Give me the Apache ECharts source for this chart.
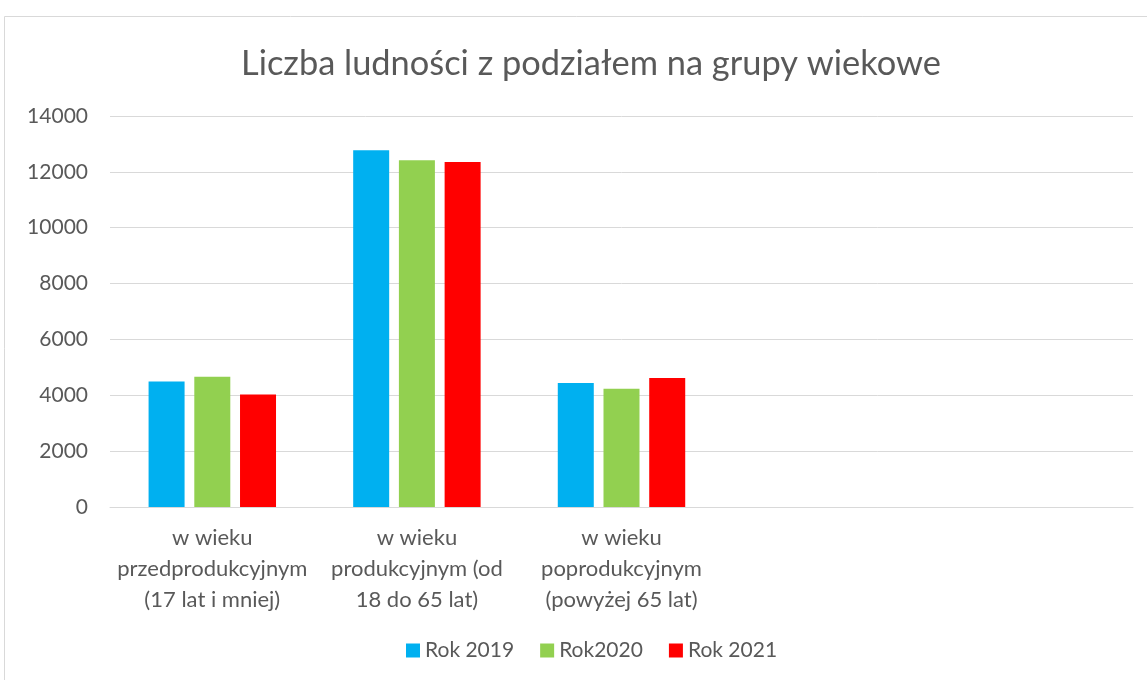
<!DOCTYPE html>
<html>
<head>
<meta charset="utf-8">
<script src="https://cdn.jsdelivr.net/npm/echarts@6/dist/echarts.min.js"></script>
<style>
  html, body { margin: 0; padding: 0; background: #fff; }
  #chart { width: 1147px; height: 680px; }
</style>
</head>
<body>
<div id="chart"></div>
<script>
// kategorie (dwie ostatnie puste, jak w oryginale)
const categories = [
  'w wieku\nprzedprodukcyjnym\n(17 lat i mniej)',
  'w wieku\nprodukcyjnym (od\n18 do 65 lat)',
  'w wieku\npoprodukcyjnym\n(powyżej 65 lat)',
  '',
  ''
]
const rok2019 = [4490, 12770, 4440]
const rok2020 = [4660, 12420, 4230]
const rok2021 = [4030, 12350, 4620]
const yTicks = { min: 0, max: 14000, interval: 2000 }

const fontFamily = 'Lato, "Open Sans", sans-serif'
const textColor = '#595959'
const gridColor = '#d9d9d9'

const chart = echarts.init(document.getElementById('chart'))

const barStyle = (name, color, data) => ({
  name,
  type: 'bar',
  data,
  barWidth: 36,
  barGap: '27%',
  itemStyle: { color },
  animation: false
})

chart.setOption({
  textStyle: { fontFamily },
  graphic: [{
    type: 'rect',
    shape: { x: 4.5, y: 16.5, width: 1200, height: 700 },
    style: { fill: 'none', stroke: gridColor, lineWidth: 1 },
    silent: true
  }],
  title: {
    text: 'Liczba ludności z podziałem na grupy wiekowe',
    left: 236,
    top: 42,
    textStyle: { fontFamily, fontSize: 34.4, fontWeight: 'normal', color: textColor }
  },
  legend: {
    top: 635,
    left: 401,
    icon: 'rect',
    itemWidth: 14,
    itemHeight: 14,
    itemGap: 26,
    textStyle: { fontFamily, fontSize: 21, color: textColor }
  },
  grid: {
    left: 110,
    right: 14,
    top: 116,
    bottom: 173
  },
  xAxis: {
    type: 'category',
    data: categories,
    axisTick: { show: false },
    axisLine: { lineStyle: { color: gridColor, width: 1 } },
    axisLabel: {
      interval: 0,
      margin: 15,
      color: textColor,
      fontFamily,
      fontSize: 22,
      lineHeight: 31
    }
  },
  yAxis: {
    type: 'value',
    min: yTicks.min,
    max: yTicks.max,
    interval: yTicks.interval,
    axisLine: { show: false },
    axisTick: { show: false },
    splitLine: { lineStyle: { color: gridColor, width: 1 } },
    axisLabel: {
      color: textColor,
      fontFamily,
      fontSize: 21,
      margin: 22,
      formatter: v => String(v)
    }
  },
  series: [
    barStyle('Rok 2019', '#00b0f0', rok2019),
    barStyle('Rok2020', '#92d050', rok2020),
    barStyle('Rok 2021', '#ff0000', rok2021)
  ]
})
</script>
</body>
</html>
